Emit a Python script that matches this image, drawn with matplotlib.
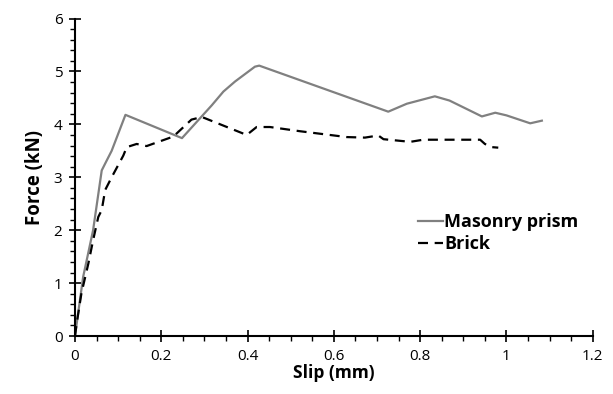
#!/usr/bin/env python3
"""Force vs slip curves for masonry prism and brick."""

import matplotlib
matplotlib.use("Agg")
import matplotlib.pyplot as plt
from matplotlib.ticker import MultipleLocator

plt.rcParams["font.family"] = ["Open Sans", "DejaVu Sans"]

PRISM_SLIP = [0.0, 0.019, 0.042, 0.062, 0.070, 0.085, 0.117, 0.248, 0.317, 0.344,
              0.371, 0.417, 0.427, 0.726, 0.769, 0.834, 0.868, 0.943, 0.974,
              1.000, 1.055, 1.082]
PRISM_FORCE = [0.0, 1.12, 2.00, 3.13, 3.26, 3.50, 4.18, 3.74, 4.36, 4.62,
               4.81, 5.09, 5.11, 4.24, 4.39, 4.53, 4.45, 4.15, 4.22,
               4.17, 4.02, 4.07]

BRICK_SLIP = [0.0, 0.004, 0.015, 0.031, 0.042, 0.054, 0.062, 0.070, 0.085, 0.112,
              0.120, 0.143, 0.166, 0.228, 0.270, 0.294, 0.398, 0.421, 0.452,
              0.522, 0.630, 0.672, 0.703, 0.715, 0.777, 0.807, 0.939, 0.950,
              0.966, 0.981]
BRICK_FORCE = [0.0, 0.24, 0.81, 1.37, 1.81, 2.25, 2.38, 2.76, 3.00, 3.41,
               3.57, 3.63, 3.59, 3.77, 4.09, 4.14, 3.80, 3.95, 3.95,
               3.87, 3.76, 3.75, 3.79, 3.72, 3.67, 3.71, 3.71, 3.63,
               3.57, 3.56]

fig = plt.figure(figsize=(6.13, 3.94), dpi=100)
ax = fig.add_axes([0.1223, 0.147, 0.8447, 0.806])

ax.plot(PRISM_SLIP, PRISM_FORCE, color="#808080", linewidth=1.6,
        label="Masonry prism")
ax.plot(BRICK_SLIP, BRICK_FORCE, color="black", linewidth=1.6,
        dashes=(4.5, 3), label="Brick")

ax.set_xlim(0, 1.2)
ax.set_ylim(0, 6)
ax.xaxis.set_major_locator(MultipleLocator(0.2))
ax.xaxis.set_minor_locator(MultipleLocator(0.05))
ax.yaxis.set_major_locator(MultipleLocator(1))
ax.yaxis.set_minor_locator(MultipleLocator(0.2))
ax.set_xticks([0, 0.2, 0.4, 0.6, 0.8, 1.0, 1.2], ["0", "0.2", "0.4", "0.6", "0.8", "1", "1.2"])

ax.tick_params(which="major", direction="inout", length=8, width=1.2,
               labelsize=11, pad=5)
ax.tick_params(which="minor", direction="out", length=3.5, width=1.0)
ax.spines["top"].set_visible(False)
ax.spines["right"].set_visible(False)
for side in ("left", "bottom"):
    ax.spines[side].set_linewidth(1.5)

ax.set_xlabel("Slip (mm)", fontsize=12.5, fontweight="bold", labelpad=0)
ax.set_ylabel("Force (kN)", fontsize=13.5, fontweight="bold", labelpad=6)

leg = ax.legend(loc="upper left", bbox_to_anchor=(0.645, 0.415), frameon=False,
                handlelength=1.4, handletextpad=0.05, borderpad=0,
                labelspacing=0.2, prop={"size": 13, "weight": "bold"})

fig.savefig("out.png", dpi=100)
